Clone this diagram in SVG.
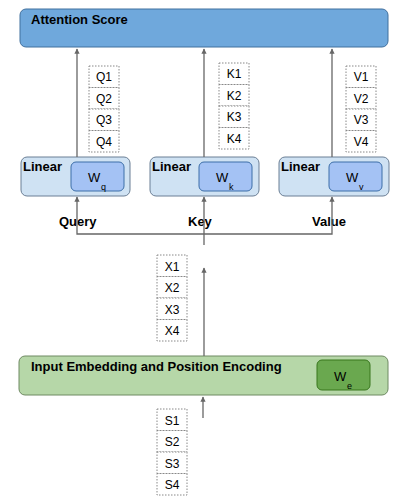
<svg xmlns="http://www.w3.org/2000/svg" width="418" height="503" viewBox="0 0 418 503">
<style>
text{font-family:"Liberation Sans",Arial,sans-serif;fill:#000}
.b{font-weight:bold;font-size:13px}
.c{font-size:12px;text-anchor:middle}
.cell{fill:#fff;stroke:#888;stroke-width:1;stroke-dasharray:1.5 1.5}
.lin{fill:#cfe2f3;stroke:#6b7f95;stroke-width:1}
.w{fill:#a4c2f4;stroke:#3c6ea8;stroke-width:1}
.con{fill:none;stroke:#666;stroke-width:1.3}
.ws{font-size:13px}
.sub{font-size:9px}
</style>
<defs>
<marker id="ah" viewBox="0 0 10 10" refX="9" refY="5" markerWidth="4" markerHeight="4" orient="auto"><path d="M0,0 L10,5 L0,10 z" fill="#666"/></marker>
</defs>
<g id="attention">
<rect x="20" y="9" width="368" height="38" rx="6" fill="#6fa8dc" stroke="#41709e" stroke-width="1"/>
<text class="b" x="31" y="24">Attention Score</text>
</g>
<g id="q-vec">
<rect class="cell" x="89" y="66" width="30" height="21.5"/><rect class="cell" x="89" y="87.5" width="30" height="21.5"/><rect class="cell" x="89" y="109" width="30" height="21.5"/><rect class="cell" x="89" y="130.5" width="30" height="21.5"/>
<text class="c" x="104" y="81">Q1</text><text class="c" x="104" y="103">Q2</text><text class="c" x="104" y="124">Q3</text><text class="c" x="104" y="146">Q4</text>
</g>
<g id="k-vec">
<rect class="cell" x="219" y="63" width="30" height="21.5"/><rect class="cell" x="219" y="84.5" width="30" height="21.5"/><rect class="cell" x="219" y="106" width="30" height="21.5"/><rect class="cell" x="219" y="127.5" width="30" height="21.5"/>
<text class="c" x="234" y="78">K1</text><text class="c" x="234" y="100">K2</text><text class="c" x="234" y="121">K3</text><text class="c" x="234" y="143">K4</text>
</g>
<g id="v-vec">
<rect class="cell" x="346" y="66" width="30" height="21.5"/><rect class="cell" x="346" y="87.5" width="30" height="21.5"/><rect class="cell" x="346" y="109" width="30" height="21.5"/><rect class="cell" x="346" y="130.5" width="30" height="21.5"/>
<text class="c" x="361" y="81">V1</text><text class="c" x="361" y="103">V2</text><text class="c" x="361" y="124">V3</text><text class="c" x="361" y="146">V4</text>
</g>
<g id="linear-q">
<rect class="lin" x="21" y="157" width="109" height="39" rx="6"/>
<text class="b" x="23" y="171">Linear</text>
<rect class="w" x="71" y="162" width="53" height="29" rx="5"/>
<text class="ws" x="88" y="182">W</text><text class="sub" x="101" y="190">q</text>
</g>
<g id="linear-k">
<rect class="lin" x="150" y="157" width="109" height="39" rx="6"/>
<text class="b" x="152" y="171">Linear</text>
<rect class="w" x="199" y="162" width="53" height="29" rx="5"/>
<text class="ws" x="216" y="182">W</text><text class="sub" x="229" y="190">k</text>
</g>
<g id="linear-v">
<rect class="lin" x="279" y="157" width="110" height="39" rx="6"/>
<text class="b" x="281" y="171">Linear</text>
<rect class="w" x="329" y="162" width="53" height="29" rx="5"/>
<text class="ws" x="346" y="182">W</text><text class="sub" x="359" y="190">v</text>
</g>
<g id="labels">
<text class="b" x="59" y="226">Query</text>
<text class="b" x="188" y="226">Key</text>
<text class="b" x="312" y="226">Value</text>
</g>
<g id="x-vec">
<rect class="cell" x="157" y="255" width="30" height="21.5"/><rect class="cell" x="157" y="276.5" width="30" height="21.5"/><rect class="cell" x="157" y="298" width="30" height="21.5"/><rect class="cell" x="157" y="319.5" width="30" height="21.5"/>
<text class="c" x="172" y="271">X1</text><text class="c" x="172" y="292">X2</text><text class="c" x="172" y="314">X3</text><text class="c" x="172" y="335">X4</text>
</g>
<g id="embedding">
<rect x="19" y="356" width="369" height="39" rx="6" fill="#b6d7a8" stroke="#6f8a63" stroke-width="1"/>
<text class="b" x="31" y="371">Input Embedding and Position Encoding</text>
<rect x="317" y="360" width="53" height="30" rx="5" fill="#6aa84f" stroke="#38761d" stroke-width="1"/>
<text class="ws" x="334" y="381">W</text><text class="sub" x="347" y="389">e</text>
</g>
<g id="s-vec">
<rect class="cell" x="157" y="409" width="30" height="21.5"/><rect class="cell" x="157" y="430.5" width="30" height="21.5"/><rect class="cell" x="157" y="452" width="30" height="21.5"/><rect class="cell" x="157" y="473.5" width="30" height="21.5"/>
<text class="c" x="172" y="425">S1</text><text class="c" x="172" y="446">S2</text><text class="c" x="172" y="468">S3</text><text class="c" x="172" y="489">S4</text>
</g>
<g id="connectors">
<path class="con" d="M77,157 V49" marker-end="url(#ah)"/>
<path class="con" d="M204,157 V49" marker-end="url(#ah)"/>
<path class="con" d="M332,157 V49" marker-end="url(#ah)"/>
<path class="con" d="M204,245 V197" marker-end="url(#ah)"/>
<path class="con" d="M204,234 H77 V197" marker-end="url(#ah)"/>
<path class="con" d="M204,234 H332 V197" marker-end="url(#ah)"/>
<path class="con" d="M204,356 V268" marker-end="url(#ah)"/>
<path class="con" d="M203,418 V397" marker-end="url(#ah)"/>
</g>
</svg>
